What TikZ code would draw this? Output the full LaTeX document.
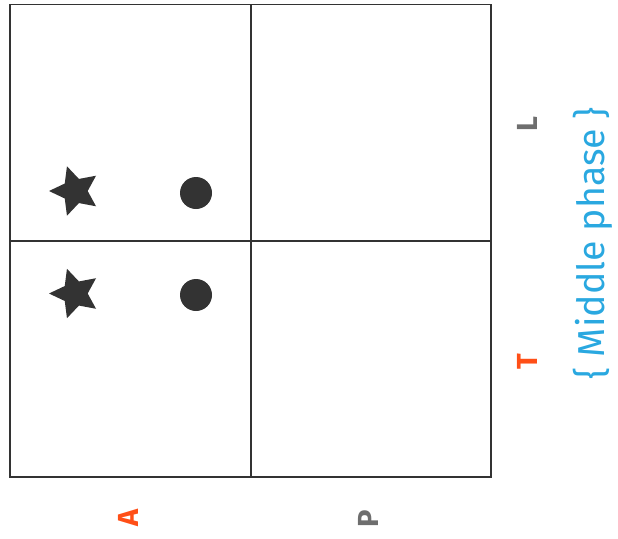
\documentclass[tikz,border=0pt]{standalone}
\usepackage{fontspec}
\setmainfont{Fira Sans}
\usetikzlibrary{shapes.geometric}

\definecolor{gridgray}{HTML}{333333}
\definecolor{labelorange}{HTML}{FF4F17}
\definecolor{labelgray}{HTML}{6E6E6E}
\definecolor{phaseblue}{HTML}{2AA8E0}

\tikzset{
  mark star/.style={star, star points=5, star point ratio=2.05, shape border rotate=90,
    fill=gridgray, minimum size=52pt, inner sep=0pt},
  mark dot/.style={circle, fill=gridgray, minimum size=32pt, inner sep=0pt},
  axis label/.style={rotate=90, font=\bfseries\fontsize{29}{29}\selectfont}
}

\begin{document}
\begin{tikzpicture}[x=1pt,y=-1pt]
  \useasboundingbox (0,0) rectangle (618,538);

  % --- Grid ---
  \coordinate (G0) at (10,4.5);
  \coordinate (G1) at (491,477);
  \coordinate (GM) at (251,241);
  \draw[gridgray, line width=1.8pt] (G0) rectangle (G1);
  \draw[gridgray, line width=1.8pt] (GM |- G0) -- (GM |- G1);
  \draw[gridgray, line width=1.8pt] (GM -| G0) -- (GM -| G1);

  % --- Marks ---
  \node[mark star] (starL) at (75,191) {};
  \node[mark star] (starT) at (75,293.5) {};
  \node[mark dot]  (dotL)  at (196,193) {};
  \node[mark dot]  (dotT)  at (196,295) {};

  % --- Labels (rotated) ---
  \node[axis label, text=labelorange] (labA) at (128,518) {A};
  \node[axis label, text=labelgray]   (labP) at (368,519) {P};
  \node[axis label, text=labelgray]   (labL) at (527,124) {L};
  \node[axis label, text=labelorange] (labT) at (527,362) {T};

  \node[rotate=90, text=phaseblue, font=\fontsize{37.5}{37.5}\selectfont] (phase) at (593,243) {\{ Middle phase \}};

\end{tikzpicture}
\end{document}
